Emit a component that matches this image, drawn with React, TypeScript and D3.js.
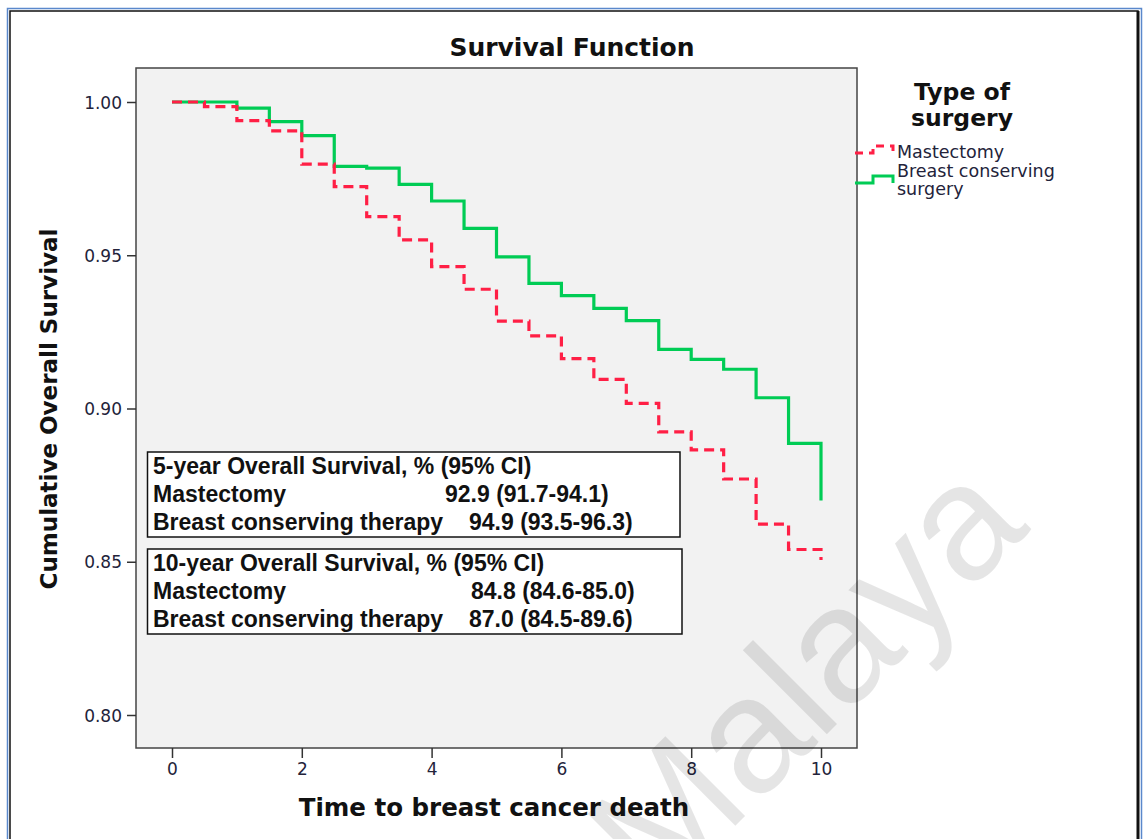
import React, { useEffect, useRef } from "react";
import * as d3 from "d3";

// time (years) at which each step happens
const times = [0, 0.5, 1, 1.5, 2, 2.5, 3, 3.5, 4, 4.5, 5, 5.5, 6, 6.5, 7, 7.5, 8, 8.5, 9, 9.5, 10];
// cumulative survival
const mastectomy = [1.0, 0.9985, 0.9939, 0.9906, 0.9797, 0.9724, 0.9626, 0.955, 0.9463, 0.9389, 0.9285, 0.9237, 0.9163, 0.9095, 0.9017, 0.8924, 0.8865, 0.877, 0.8623, 0.854, 0.8506];
const bcs = [1.0, 1.0, 0.998, 0.9936, 0.989, 0.979, 0.9784, 0.9731, 0.9677, 0.9588, 0.9495, 0.9408, 0.9368, 0.9327, 0.9287, 0.9193, 0.916, 0.9128, 0.9035, 0.8886, 0.87];

const xTicks = [0, 2, 4, 6, 8, 10];
const yTicks = [0.8, 0.85, 0.9, 0.95, 1.0];

const box5 = [
  ["5-year Overall Survival, % (95% CI)", ""],
  ["Mastectomy", "92.9 (91.7-94.1)"],
  ["Breast conserving therapy", "94.9 (93.5-96.3)"],
];
const box10 = [
  ["10-year Overall Survival, % (95% CI)", ""],
  ["Mastectomy", "84.8 (84.6-85.0)"],
  ["Breast conserving therapy", "87.0 (84.5-89.6)"],
];

const RED = "#ff1f45";
const GREEN = "#00cc55";

const App = () => {
  const svgRef = useRef<SVGSVGElement>(null);

  useEffect(() => {
    const width = 1144;
    const height = 839;
    const plot = { left: 136, top: 68, right: 857, bottom: 748 };

    const svg = d3.select(svgRef.current);
    svg.selectAll("*").remove();
    svg.attr("width", width).attr("height", height);

    svg.append("rect").attr("width", width).attr("height", height).attr("fill", "#fff");

    // outer frame
    svg.append("rect")
      .attr("x", 7.5).attr("y", 8.5).attr("width", 1134).attr("height", 850)
      .attr("fill", "none").attr("stroke", "#5a88cc").attr("stroke-width", 1.5);
    svg.append("rect")
      .attr("x", 10).attr("y", 11).attr("width", 1128).attr("height", 850)
      .attr("fill", "none").attr("stroke", "#111").attr("stroke-width", 1.5);
    svg.append("line")
      .attr("x1", 1138).attr("x2", 1138).attr("y1", 11).attr("y2", height)
      .attr("stroke", "#111").attr("stroke-width", 3);

    const x = d3.scaleLinear().domain([0, 10]).range([172, 821]);
    const y = d3.scaleLinear().domain([0.8, 1.0]).range([715, 102]);

    // plot background
    svg.append("rect")
      .attr("x", plot.left).attr("y", plot.top)
      .attr("width", plot.right - plot.left).attr("height", plot.bottom - plot.top)
      .attr("fill", "#f2f2f2").attr("stroke", "#444").attr("stroke-width", 1.5);

    const tickFont = "'DejaVu Sans', sans-serif";

    // y axis
    const yAxis = svg.append("g")
      .attr("transform", `translate(${plot.left},0)`)
      .call(d3.axisLeft(y).tickValues(yTicks).tickFormat(d3.format(".2f")).tickSize(9).tickSizeOuter(0));
    yAxis.select(".domain").remove();
    yAxis.selectAll(".tick line").attr("stroke", "#333").attr("stroke-width", 1.5);
    yAxis.selectAll(".tick text")
      .attr("x", -14).attr("dy", "0.36em")
      .style("font-family", tickFont).style("font-size", "17px").attr("fill", "#23233a");

    // x axis
    const xAxis = svg.append("g")
      .attr("transform", `translate(0,${plot.bottom})`)
      .call(d3.axisBottom(x).tickValues(xTicks).tickSize(10).tickSizeOuter(0));
    xAxis.select(".domain").remove();
    xAxis.selectAll(".tick line").attr("stroke", "#333").attr("stroke-width", 1.5);
    xAxis.selectAll(".tick text")
      .attr("y", 15).attr("dy", "0.71em")
      .style("font-family", tickFont).style("font-size", "17px").attr("fill", "#23233a");

    // watermark
    svg.append("text")
      .attr("transform", "translate(658,903) rotate(-45)")
      .attr("font-family", "'Liberation Sans', Arial, sans-serif")
      .attr("font-size", 164)
      .attr("fill", "#000").attr("fill-opacity", 0.1)
      .text("Malaya");

    // curves
    const line = d3.line<[number, number]>()
      .curve(d3.curveStepAfter)
      .x((d) => x(d[0]))
      .y((d) => y(d[1]));

    const redData = times.map((t, i) => [t, mastectomy[i]] as [number, number]);
    const greenData = times.map((t, i) => [t, bcs[i]] as [number, number]);

    svg.append("path").datum(greenData).attr("d", line)
      .attr("fill", "none").attr("stroke", GREEN).attr("stroke-width", 3.2);
    svg.append("path").datum(redData).attr("d", line)
      .attr("fill", "none").attr("stroke", RED).attr("stroke-width", 3.2)
      .attr("stroke-dasharray", "10,6");

    // annotation boxes
    const boxFont = "'Liberation Sans', Arial, sans-serif";
    const drawBox = (rows: string[][], top: number, right: number, valueX: number[]) => {
      svg.append("rect")
        .attr("x", 147.5).attr("y", top).attr("width", right - 147.5).attr("height", 85)
        .attr("fill", "#fff").attr("stroke", "#111").attr("stroke-width", 1.5);
      rows.forEach((r, i) => {
        svg.append("text")
          .attr("x", 153).attr("y", top + 22 + i * 28)
          .attr("font-family", boxFont).attr("font-weight", "bold").attr("font-size", 23)
          .attr("fill", "#111").text(r[0]);
        if (r[1]) {
          svg.append("text")
            .attr("x", valueX[i]).attr("y", top + 22 + i * 28)
            .attr("font-family", boxFont).attr("font-weight", "bold").attr("font-size", 23)
            .attr("fill", "#111").text(r[1]);
        }
      });
    };
    drawBox(box5, 452, 680, [0, 445, 469]);
    drawBox(box10, 549, 682, [0, 471, 469]);

    // titles
    const labelFont = "'DejaVu Sans', sans-serif";
    svg.append("text")
      .attr("x", 572).attr("y", 56).attr("text-anchor", "middle")
      .attr("font-family", labelFont).attr("font-weight", "bold").attr("font-size", 25)
      .attr("fill", "#111").text("Survival Function");

    svg.append("text")
      .attr("transform", `translate(57,${(228 + 590) / 2}) rotate(-90)`)
      .attr("text-anchor", "middle")
      .attr("font-family", labelFont).attr("font-weight", "bold").attr("font-size", 23)
      .attr("fill", "#111").text("Cumulative Overall Survival");

    svg.append("text")
      .attr("x", 494).attr("y", 816).attr("text-anchor", "middle")
      .attr("font-family", labelFont).attr("font-weight", "bold").attr("font-size", 24.5)
      .attr("fill", "#111").text("Time to breast cancer death");

    // legend
    const legend = svg.append("g");
    legend.append("text")
      .attr("x", 962).attr("y", 100).attr("text-anchor", "middle")
      .attr("font-family", labelFont).attr("font-weight", "bold").attr("font-size", 23.5)
      .attr("fill", "#111").text("Type of");
    legend.append("text")
      .attr("x", 962).attr("y", 126).attr("text-anchor", "middle")
      .attr("font-family", labelFont).attr("font-weight", "bold").attr("font-size", 23.5)
      .attr("fill", "#111").text("surgery");

    const sym = d3.line<[number, number]>().curve(d3.curveStepAfter);
    legend.append("path")
      .attr("d", sym([[855, 153], [873, 146], [893, 146], [893, 151]]))
      .attr("fill", "none").attr("stroke", RED).attr("stroke-width", 3).attr("stroke-dasharray", "8,6");
    legend.append("path")
      .attr("d", sym([[855, 183], [873, 176], [893, 176], [893, 183]]))
      .attr("fill", "none").attr("stroke", GREEN).attr("stroke-width", 3);

    const itemFont = "'DejaVu Sans', sans-serif";
    [["Mastectomy", 158], ["Breast conserving", 177], ["surgery", 195]].forEach(([t, yy]) => {
      legend.append("text")
        .attr("x", 897).attr("y", yy as number)
        .attr("font-family", itemFont).attr("font-size", 17.5)
        .attr("fill", "#23233a").text(t as string);
    });
  }, []);

  return <svg ref={svgRef} style={{ position: "absolute", left: 0, top: 0 }} />;
};

export default App;
